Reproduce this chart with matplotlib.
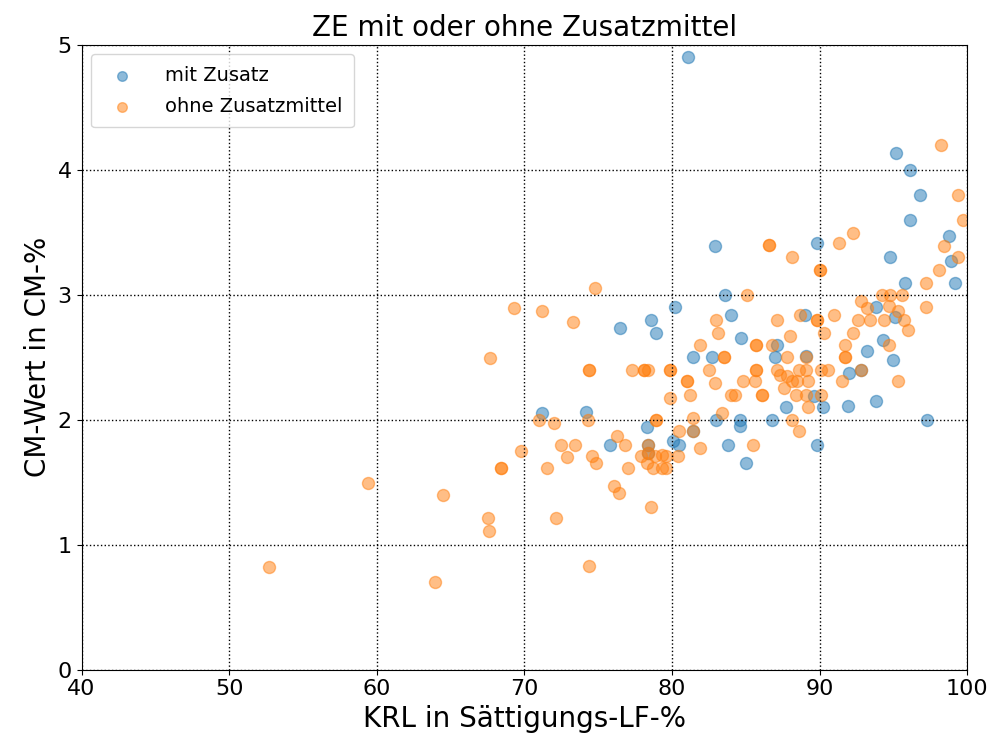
import matplotlib.pyplot as plt

# mit Zusatz
mit_x = [81.1, 95.2, 96.1, 96.8, 96.1, 89.8, 82.9, 98.8, 94.8, 98.9,
         95.8, 99.2, 83.6, 80.2, 93.8, 95.1, 76.5, 78.6, 78.9, 84.0,
         84.7, 89.0, 94.3, 93.2, 95.0, 87.1, 81.4, 82.7, 87.0, 89.1,
         92.8, 92.0, 89.6, 90.2, 87.7, 91.9, 93.8, 97.3, 83.0, 84.6,
         84.6, 86.8, 74.2, 71.2, 78.3, 81.4, 80.1, 80.5, 83.8, 89.8,
         85.0, 75.8, 78.4, 78.4]
mit_y = [4.90, 4.13, 4.00, 3.80, 3.60, 3.41, 3.39, 3.47, 3.30, 3.27,
         3.09, 3.09, 3.00, 2.90, 2.90, 2.82, 2.73, 2.80, 2.69, 2.84,
         2.65, 2.84, 2.64, 2.55, 2.48, 2.60, 2.50, 2.50, 2.50, 2.51,
         2.40, 2.37, 2.19, 2.10, 2.10, 2.11, 2.15, 2.00, 2.00, 2.00,
         1.95, 2.00, 2.06, 2.05, 1.94, 1.91, 1.83, 1.80, 1.80, 1.80,
         1.65, 1.80, 1.80, 1.73]

# ohne Zusatzmittel
ohne_x = [98.2, 99.4, 99.75, 92.3, 91.3, 86.6, 86.6, 98.4, 88.1, 90.0,
          90.0, 99.4, 98.1, 97.2, 74.8, 85.1, 94.2, 94.8, 95.6, 92.8,
          93.2, 94.7, 97.2, 95.3, 95.7, 83.0, 83.1, 87.1, 88.7, 89.8,
          89.8, 91.0, 90.3, 88.0, 92.3, 92.6, 93.4, 94.4, 96.0, 94.7,
          91.7, 91.7, 91.7, 81.9, 85.7, 85.7, 86.8, 83.5, 83.5, 87.8,
          89.1, 74.4, 74.4, 77.3, 78.1, 78.1, 78.4, 79.9, 79.9, 82.5,
          85.7, 85.7, 87.1, 87.3, 87.8, 88.1, 88.6, 89.1, 89.2, 88.45,
          87.6, 88.4, 89.1, 90.1, 90.6, 92.8, 91.5, 95.3, 81.0, 81.0,
          82.9, 84.8, 85.6, 79.9, 81.2, 84.0, 84.3, 86.1, 86.1, 90.1,
          89.2, 83.4, 81.4, 88.1, 88.6, 74.3, 78.9, 78.9, 80.5, 81.4,
          81.9, 85.5, 76.25, 76.8, 74.55, 74.85, 78.4, 78.4, 77.9, 78.85,
          79.3, 79.6, 78.3, 78.7, 79.3, 79.6, 80.4, 77.0, 78.6, 69.3,
          71.2, 73.3, 67.7, 71.0, 72.0, 69.8, 72.5, 73.4, 72.9, 68.45,
          68.45, 71.5, 59.4, 64.5, 67.55, 67.6, 72.15, 74.4, 63.95, 52.7,
          76.1, 76.4]
ohne_y = [4.20, 3.80, 3.60, 3.49, 3.41, 3.40, 3.40, 3.39, 3.30, 3.20,
          3.20, 3.30, 3.20, 3.09, 3.05, 3.00, 3.00, 3.00, 3.00, 2.95,
          2.89, 2.91, 2.90, 2.87, 2.80, 2.80, 2.69, 2.80, 2.84, 2.80,
          2.80, 2.84, 2.69, 2.67, 2.69, 2.80, 2.80, 2.80, 2.72, 2.60,
          2.60, 2.50, 2.50, 2.60, 2.60, 2.60, 2.60, 2.50, 2.50, 2.50,
          2.50, 2.40, 2.40, 2.40, 2.40, 2.40, 2.40, 2.40, 2.40, 2.40,
          2.40, 2.40, 2.40, 2.36, 2.35, 2.31, 2.40, 2.40, 2.31, 2.31,
          2.25, 2.20, 2.20, 2.40, 2.40, 2.40, 2.31, 2.31, 2.31, 2.31,
          2.29, 2.31, 2.31, 2.17, 2.20, 2.20, 2.20, 2.20, 2.20, 2.20,
          2.10, 2.05, 2.01, 2.00, 1.91, 2.00, 2.00, 2.00, 1.91, 1.91,
          1.77, 1.80, 1.87, 1.80, 1.71, 1.65, 1.80, 1.73, 1.71, 1.71,
          1.72, 1.71, 1.65, 1.61, 1.61, 1.61, 1.71, 1.61, 1.30, 2.89,
          2.87, 2.78, 2.49, 2.00, 1.97, 1.75, 1.80, 1.80, 1.70, 1.61,
          1.61, 1.61, 1.49, 1.40, 1.21, 1.11, 1.21, 0.83, 0.70, 0.82,
          1.47, 1.41]

fig = plt.figure(figsize=(9.95, 7.45), dpi=100)
ax = fig.add_axes([0.082, 0.101, 0.890, 0.839])

ax.scatter(mit_x, mit_y, s=75, color="tab:blue", alpha=0.5, label="mit Zusatz")
ax.scatter(ohne_x, ohne_y, s=75, color="tab:orange", alpha=0.5, label="ohne Zusatzmittel")

ax.set_xlim(40, 100)
ax.set_ylim(0, 5)
ax.set_xticks([40, 50, 60, 70, 80, 90, 100])
ax.set_yticks([0, 1, 2, 3, 4, 5])
ax.grid(True, color="black", linestyle=":", linewidth=1)
ax.tick_params(labelsize=16)

ax.set_title("ZE mit oder ohne Zusatzmittel", fontsize=20)
ax.set_xlabel("KRL in Sättigungs-LF-%", fontsize=20)
ax.set_ylabel("CM-Wert in CM-%", fontsize=20)
ax.legend(loc="upper left", fontsize=14, markerscale=0.8, handletextpad=1.2,
          borderpad=0.6, labelspacing=0.6)

plt.savefig("out.png", dpi=100)
